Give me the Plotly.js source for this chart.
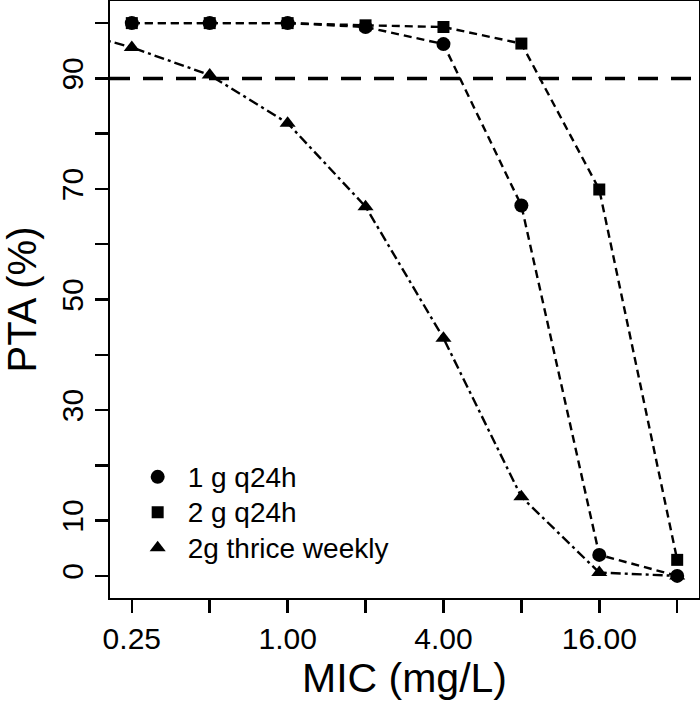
<!DOCTYPE html>
<html>
<head>
<meta charset="utf-8">
<script src="https://cdn.plot.ly/plotly-3.0.1.min.js"></script>
<style>html,body{margin:0;padding:0;background:#fff;}#chart{width:700px;height:703px;}</style>
</head>
<body>
<div id="chart"></div>
<script>
// MIC values (mg/L)
const mic = [0.25, 0.5, 1, 2, 4, 8, 16, 32];
const micTri = [0.125, 0.25, 0.5, 1, 2, 4, 8, 16, 32];
// PTA (%) per regimen
const pta1g = [100, 100, 100, 99.3, 96.2, 67.0, 3.8, 0];
const pta2g = [100, 100, 100, 99.6, 99.3, 96.3, 69.9, 2.9];
const ptaTiw = [99.5, 95.6, 90.6, 81.9, 66.8, 43.0, 14.3, 0.6, 0];
const seriesNames = ['1 g q24h', '2 g q24h', '2g thrice weekly'];
const targetPTA = 90;
// axis ticks
const xTickVals = [0.25, 0.5, 1, 2, 4, 8, 16, 32];
const xTickText = ['0.25', '', '1.00', '', '4.00', '', '16.00', ''];
const yTickVals = [0, 10, 20, 30, 40, 50, 60, 70, 80, 90, 100];
const yTickText = ['0', '10', '', '30', '', '50', '', '70', '', '90', ''];

const FONT = 'Liberation Sans, Arial, Helvetica, sans-serif';
const dashA = '8px,5px';
const dashB = '10px,4px,3px,4px';
const lg = s => '<span style="font-size:28px">' + s + '</span>';

const traces = [
  {x: mic, y: pta1g, mode: 'lines', line: {color: '#000', width: 2.4, dash: dashA}, showlegend: false, hoverinfo: 'skip'},
  {x: mic, y: pta2g, mode: 'lines', line: {color: '#000', width: 2.4, dash: dashA}, showlegend: false, hoverinfo: 'skip'},
  {x: micTri, y: ptaTiw, mode: 'lines', line: {color: '#000', width: 2.4, dash: dashB}, showlegend: false, hoverinfo: 'skip'},
  {x: mic, y: pta1g, mode: 'markers', name: lg(seriesNames[0]), marker: {symbol: 'circle', size: 14, color: '#000'}},
  {x: mic, y: pta2g, mode: 'markers', name: lg(seriesNames[1]), marker: {symbol: 'square', size: 12, color: '#000'}},
  {x: micTri, y: ptaTiw, mode: 'markers', name: lg(seriesNames[2]), marker: {symbol: 'triangle-up', size: 14, color: '#000'}}
];

const lxr = [Math.log10(0.25) - 0.28 * Math.log10(2), Math.log10(32) + 0.28 * Math.log10(2)];

const layout = {
  width: 700, height: 703,
  margin: {l: 110, r: 1, t: 1, b: 105},
  paper_bgcolor: '#fff', plot_bgcolor: '#fff',
  font: {family: FONT, color: '#000', size: 27},
  showlegend: true,
  legend: {x: 0.03, y: 0.241, xanchor: 'left', yanchor: 'top', bgcolor: 'rgba(0,0,0,0)',
           font: {family: FONT, size: 25, color: '#000'}, itemwidth: 50, tracegroupgap: 0},
  xaxis: {
    type: 'log', range: lxr, tickmode: 'array', tickvals: xTickVals, ticktext: xTickText,
    showgrid: false, zeroline: false, showline: true, mirror: true, linecolor: '#000', linewidth: 2,
    ticks: 'outside', ticklen: 13, tickwidth: 2.5, tickcolor: '#000', ticklabelstandoff: 0,
    tickfont: {family: FONT, size: 30},
    title: {text: 'MIC (mg/L)', font: {family: FONT, size: 41}, standoff: 1}
  },
  yaxis: {
    range: [-4, 104], tickmode: 'array', tickvals: yTickVals, ticktext: yTickText, tickangle: -90,
    showgrid: false, zeroline: false, showline: true, mirror: true, linecolor: '#000', linewidth: 2,
    ticks: 'outside', ticklen: 13, tickwidth: 2.5, tickcolor: '#000', ticklabelstandoff: 0,
    tickfont: {family: FONT, size: 30},
    title: {text: 'PTA (%)', font: {family: FONT, size: 40}, standoff: 8}
  },
  shapes: [{type: 'line', xref: 'paper', x0: 0, x1: 1, yref: 'y', y0: targetPTA, y1: targetPTA,
            line: {color: '#000', width: 3.5, dash: '20px,13px'}}]
};

Plotly.newPlot('chart', traces, layout, {displayModeBar: false, staticPlot: true});
</script>
</body>
</html>
